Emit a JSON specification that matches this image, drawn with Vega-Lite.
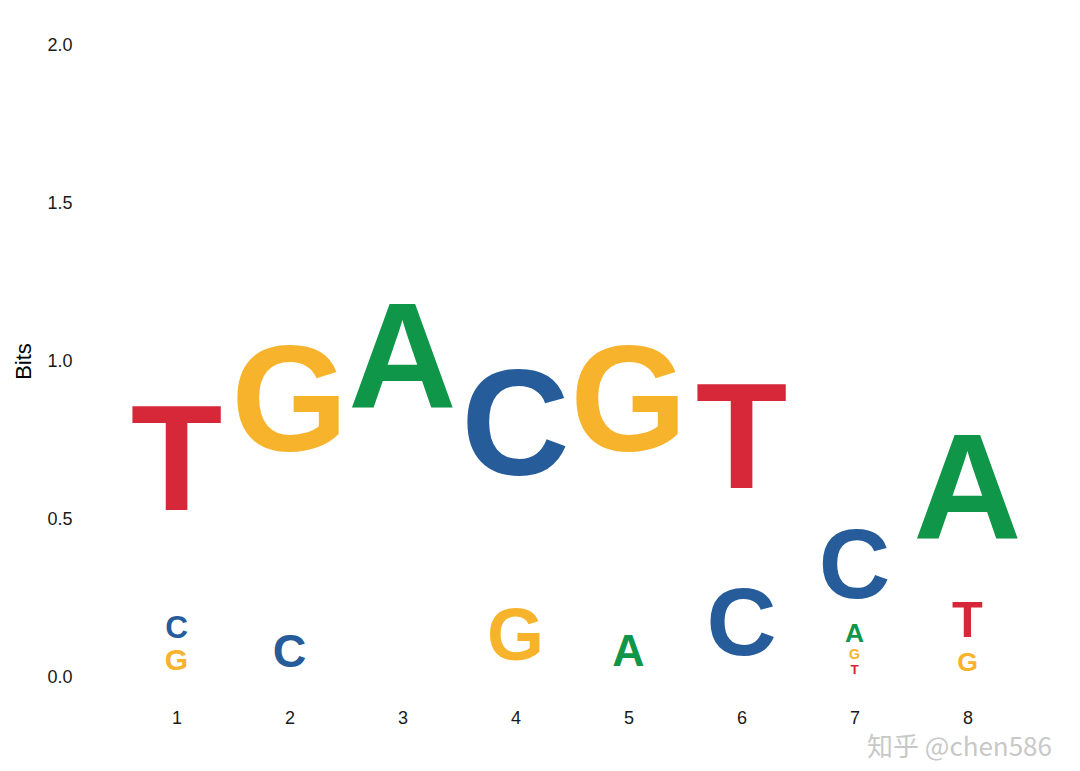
{
  "$schema": "https://vega.github.io/schema/vega-lite/v6.json",
  "width": 904,
  "height": 632,
  "autosize": "none",
  "padding": {"left": 120, "top": 45, "right": 56, "bottom": 94},
  "background": "white",
  "config": {
    "view": {"stroke": null},
    "axis": {"grid": false, "domain": false, "ticks": false, "labelColor": "#1a1a1a", "labelFont": "Liberation Sans", "titleFont": "Liberation Sans", "titleColor": "#000000"}
  },
  "title": {"text": "知乎 @chen586", "orient": "bottom", "anchor": "end", "font": "Noto Sans CJK SC", "fontSize": 26, "fontWeight": "normal", "color": "#c8c8c8", "offset": 8, "dx": 28},
  "data": {
    "values": [
      {"pos": 1, "letter": "G", "bits": 0.100},
      {"pos": 1, "letter": "C", "bits": 0.105},
      {"pos": 1, "letter": "T", "bits": 0.930},
      {"pos": 2, "letter": "C", "bits": 0.155},
      {"pos": 2, "letter": "G", "bits": 1.408},
      {"pos": 3, "letter": "A", "bits": 1.995},
      {"pos": 4, "letter": "G", "bits": 0.244},
      {"pos": 4, "letter": "C", "bits": 1.076},
      {"pos": 5, "letter": "A", "bits": 0.149},
      {"pos": 5, "letter": "G", "bits": 1.415},
      {"pos": 6, "letter": "C", "bits": 0.323},
      {"pos": 6, "letter": "T", "bits": 0.832},
      {"pos": 7, "letter": "T", "bits": 0.045},
      {"pos": 7, "letter": "G", "bits": 0.047},
      {"pos": 7, "letter": "A", "bits": 0.088},
      {"pos": 7, "letter": "C", "bits": 0.330},
      {"pos": 8, "letter": "G", "bits": 0.089},
      {"pos": 8, "letter": "T", "bits": 0.168},
      {"pos": 8, "letter": "A", "bits": 0.652}
    ]
  },
  "mark": {"type": "text", "font": "Liberation Sans", "fontWeight": "bold", "baseline": "middle", "align": "center"},
  "encoding": {
    "x": {"field": "pos", "type": "ordinal", "scale": {"paddingInner": 0, "paddingOuter": 0}, "axis": {"title": null, "labelAngle": 0, "labelFontSize": 18, "labelPadding": 32}},
    "y": {"field": "bits", "type": "quantitative", "stack": "zero", "bandPosition": 0.5, "scale": {"domain": [0, 2]}, "axis": {"title": "Bits", "values": [0, 0.5, 1, 1.5, 2], "format": ".1f", "labelFontSize": 18, "labelPadding": 48, "titleFontSize": 22, "titleFontWeight": "normal", "titlePadding": 11}},
    "order": {"field": "bits", "sort": "ascending"},
    "text": {"field": "letter"},
    "color": {"field": "letter", "type": "nominal", "scale": {"domain": ["A", "C", "G", "T"], "range": ["#109648", "#255C99", "#F7B32B", "#D62839"]}, "legend": null},
    "size": {"field": "bits", "type": "quantitative", "scale": {"type": "linear", "domain": [0, 0.5], "range": [0, 150], "clamp": true}, "legend": null}
  }
}
